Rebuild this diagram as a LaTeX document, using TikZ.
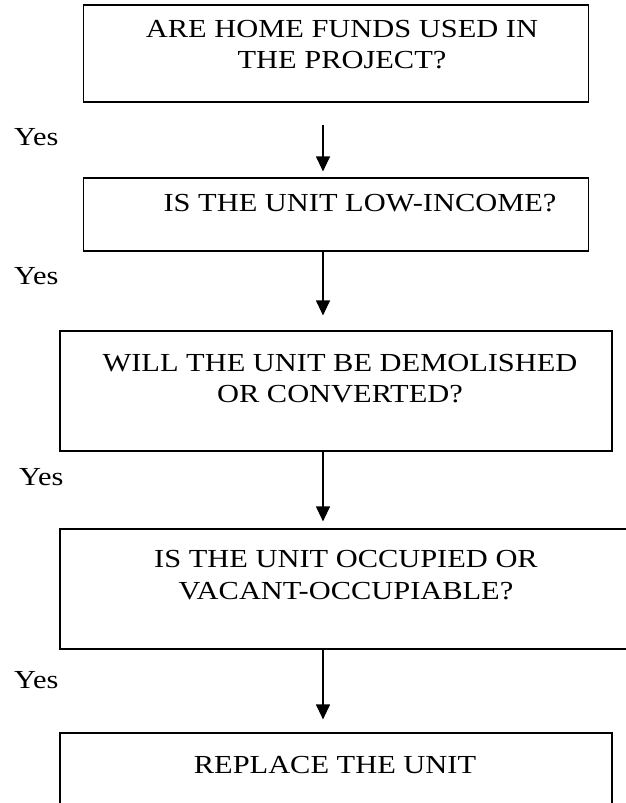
\documentclass[tikz,border=0pt]{standalone}
\usepackage{fontspec}
\setmainfont{Liberation Serif}
\newfontfamily\boxfont{Liberation Serif}[FakeStretch=1.17]
\usetikzlibrary{arrows.meta}
\begin{document}
\begin{tikzpicture}[x=1pt,y=-1pt,
  box/.style={draw, line width=1.2pt, inner sep=0pt},
  txt/.style={align=center, inner sep=0pt, anchor=base, font=\boxfont\fontsize{26}{31}\selectfont},
  yes/.style={anchor=base west, inner sep=0pt, font=\boxfont\fontsize{26}{30}\selectfont},
  arr/.style={line width=1.2pt, -{Triangle[length=15pt,width=14pt]}}]
\useasboundingbox[fill=white] (0,0) rectangle (626,803);
\node[box, minimum width=505pt, minimum height=97pt] (b1) at (336,53.5) {};
\node[txt] (t1) at (342,37) {ARE HOME FUNDS USED IN};
\node[txt] (t1b) at (342,68) {THE PROJECT?};
\node[box, minimum width=505pt, minimum height=73pt] (b2) at (336,214.5) {};
\node[txt] (t2) at (360,211) {IS THE UNIT LOW-INCOME?};
\node[box, minimum width=552pt, minimum height=120pt] (b3) at (336,391) {};
\node[txt] (t3) at (340,371) {WILL THE UNIT BE DEMOLISHED};
\node[txt] (t3b) at (340,402) {OR CONVERTED?};
\node[box, minimum width=590pt, minimum height=120pt] (b4) at (355,589) {};
\node[txt] (t4) at (346,567) {IS THE UNIT OCCUPIED OR};
\node[txt] (t4b) at (346,599) {VACANT-OCCUPIABLE?};
\node[box, minimum width=552pt, minimum height=120pt] (b5) at (336,793) {};
\node[txt] (t5) at (335,773) {REPLACE THE UNIT};
\node[yes] (y1) at (14,145) {Yes};
\node[yes] (y2) at (14,284) {Yes};
\node[yes] (y3) at (19,485) {Yes};
\node[yes] (y4) at (14,688) {Yes};
\coordinate (a1) at (323,125);
\draw[arr] (a1) -- ([yshift=6pt]a1 |- b2.north);
\draw[arr] (323,0 |- b2.south) -- ([yshift=15pt]323,0 |- b3.north);
\draw[arr] (323,0 |- b3.south) -- ([yshift=7pt]323,0 |- b4.north);
\draw[arr] (323,0 |- b4.south) -- ([yshift=13pt]323,0 |- b5.north);
\end{tikzpicture}
\end{document}
